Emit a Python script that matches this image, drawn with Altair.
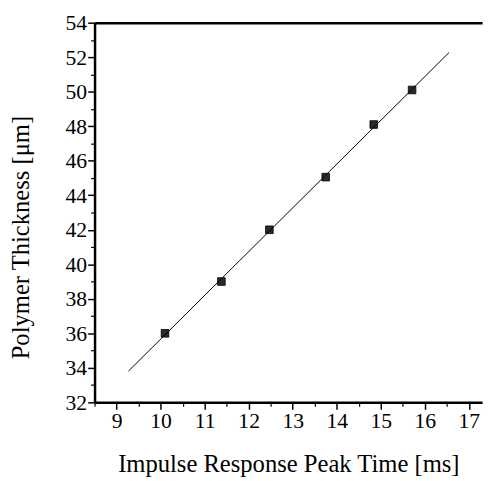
import altair as alt
import pandas as pd

# measured data points
peak_time = [10.1, 11.38, 12.47, 13.75, 14.84, 15.71]
thickness = [36.0, 39.0, 42.0, 45.05, 48.1, 50.1]
# linear fit line endpoints
fit_x = [9.27, 16.55]
fit_y = [33.81, 52.27]

x_major = [9, 10, 11, 12, 13, 14, 15, 16, 17]
x_minor = [8.5, 9.5, 10.5, 11.5, 12.5, 13.5, 14.5, 15.5, 16.5]
y_major = [32, 34, 36, 38, 40, 42, 44, 46, 48, 50, 52, 54]
y_minor = [33, 35, 37, 39, 41, 43, 45, 47, 49, 51, 53]

x_dom = [8.5, 17.3]
y_dom = [32, 54]

pts = pd.DataFrame({"x": peak_time, "y": thickness})
fit = pd.DataFrame({"x": fit_x, "y": fit_y})

FONT = "Liberation Serif"

xs = alt.Scale(domain=x_dom, nice=False, zero=False)
ys = alt.Scale(domain=y_dom, nice=False, zero=False)

points = alt.Chart(pts).mark_square(size=60, color="#2a2a2a", stroke="black", strokeWidth=0.8, opacity=1).encode(
    x=alt.X("x:Q", scale=xs, axis=alt.Axis(
        values=x_major, orient="bottom", title="Impulse Response Peak Time [ms]",
        tickSize=7, tickWidth=1.5, domainWidth=2.5, labelPadding=2, titlePadding=20,
        grid=False)),
    y=alt.Y("y:Q", scale=ys, axis=alt.Axis(
        values=y_major, orient="left", title="Polymer Thickness [μm]",
        tickSize=7, tickWidth=1.5, domainWidth=2.5, labelPadding=1, titlePadding=32,
        titleY=218, grid=False)),
)

line = alt.Chart(fit).mark_line(color="black", strokeWidth=1).encode(
    x=alt.X("x:Q", scale=xs, axis=alt.Axis(
        values=x_minor, orient="bottom", labels=False, domain=False, title=None,
        tickSize=4, tickWidth=1.2, grid=False)),
    y=alt.Y("y:Q", scale=ys, axis=alt.Axis(
        values=y_minor, orient="left", labels=False, domain=False, title=None,
        tickSize=4, tickWidth=1.2, grid=False)),
)

border = alt.Chart(fit).mark_line(opacity=0).encode(
    x=alt.X("x:Q", scale=xs, axis=alt.Axis(
        values=[], orient="top", labels=False, ticks=False, title=None,
        domainWidth=2.5, grid=False)),
    y=alt.Y("y:Q", scale=ys, axis=alt.Axis(
        values=[], orient="left", labels=False, ticks=False, title=None,
        domain=False, grid=False)),
)

chart = alt.layer(points, line, border).resolve_axis(
    x="independent", y="independent"
).properties(
    width=394, height=386,
    autosize=alt.AutoSizeParams(type="none"),
    padding={"left": 88, "top": 11, "right": 5, "bottom": 74},
).configure_view(stroke=None).configure_axis(
    labelFont=FONT, titleFont=FONT, labelFontSize=22, titleFontSize=25,
    labelColor="black", titleColor="black", domainColor="black", tickColor="black",
    titleFontWeight="normal",
)

chart.save("out.html", embed_options={"renderer": "svg", "actions": False})
